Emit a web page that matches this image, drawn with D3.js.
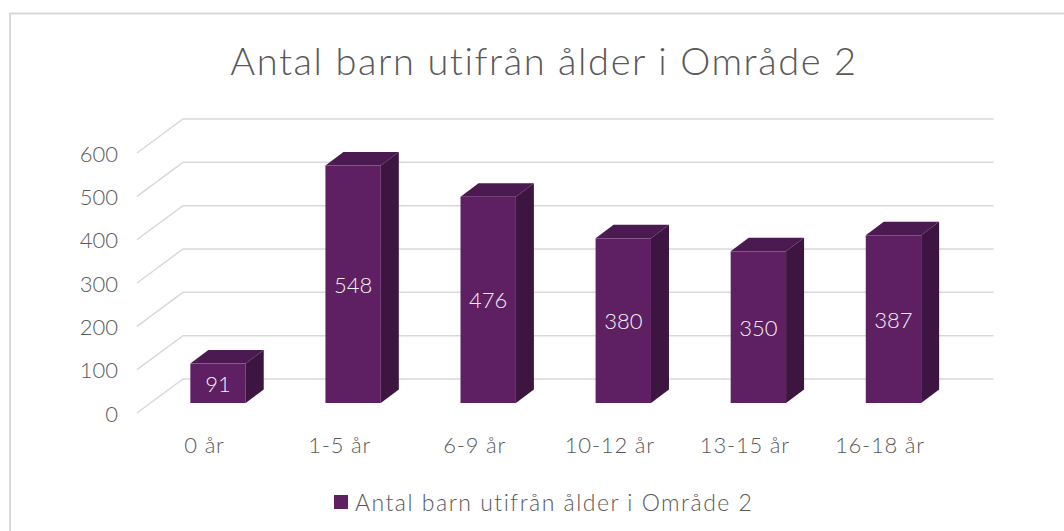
<!DOCTYPE html>
<html>
<head>
<meta charset="utf-8">
<script src="https://cdn.jsdelivr.net/npm/d3@7"></script>
<style>
  body { margin: 0; background: #fff; }
  text { font-family: Lato, "Open Sans", sans-serif; fill: #595959; font-weight: 300; }
</style>
</head>
<body>
<div id="chart"></div>
<script>
var svgWidth = 1064;
var svgHeight = 531;

var categories = ["0 år", "1-5 år", "6-9 år", "10-12 år", "13-15 år", "16-18 år"];
var values = [91, 548, 476, 380, 350, 387];
var yTicks = [0, 100, 200, 300, 400, 500, 600];
var titleText = "Antal barn utifrån ålder i Område 2";
var seriesName = "Antal barn utifrån ålder i Område 2";

// oblique "3D" offsets
var floorDx = 46, floorDy = -34;     // full floor depth, front edge -> back wall
var planeFrac = 10 / 34;             // where the bars' front faces sit
var barDx = 18, barDy = -13.5;       // depth of each bar

var svg = d3.select("#chart")
  .append("svg")
  .attr("width", svgWidth)
  .attr("height", svgHeight);

// chart border
svg.append("rect")
  .attr("x", 10)
  .attr("y", 13.5)
  .attr("width", 1100)
  .attr("height", 600)
  .attr("fill", "none")
  .attr("stroke", "#d9d9d9")
  .attr("stroke-width", 2);

// scales in the plane of the bars' front faces
var x = d3.scaleBand()
  .domain(categories)
  .range([150.5, 961])
  .paddingInner(0.59)
  .paddingOuter(0.295);

var y = d3.scaleLinear()
  .domain([0, 600])
  .range([403, 143]);

var planeDx = floorDx * planeFrac, planeDy = floorDy * planeFrac;
var backDx = floorDx - planeDx, backDy = floorDy - planeDy;

// gridlines: diagonal on the side floor + horizontal on the back wall
var frontX = x.range()[0] - planeDx;
var wallLeft = x.range()[0] + backDx;
var wallRight = x.range()[1] + backDx;

var grid = svg.append("g").attr("fill", "none")
  .attr("stroke", "#d9d9d9").attr("stroke-width", 1.5);

yTicks.forEach(function(t) {
  var yb = y(t) + backDy;
  grid.append("path")
    .attr("d", `M${frontX},${yb - floorDy} L${wallLeft},${yb} L${wallRight},${yb}`);
});

// y axis labels
svg.append("g").selectAll("text")
  .data(yTicks)
  .enter()
  .append("text")
  .attr("x", frontX - 19)
  .attr("y", d => y(d) - planeDy)
  .attr("text-anchor", "end")
  .attr("dominant-baseline", "central")
  .style("font-size", "22px")
  .text(d => d);

// bars
var bars = svg.append("g").selectAll("g")
  .data(values)
  .enter()
  .append("g");

var bw = x.bandwidth();

bars.append("path")   // top
  .attr("fill", "#4b1a50")
  .attr("d", (d, i) => {
    var x0 = x(categories[i]), yt = y(d);
    return `M${x0},${yt} L${x0 + barDx},${yt + barDy} L${x0 + bw + barDx},${yt + barDy} L${x0 + bw},${yt} Z`;
  });

bars.append("path")   // side
  .attr("fill", "#3c1541")
  .attr("d", (d, i) => {
    var x1 = x(categories[i]) + bw, yt = y(d), y0 = y(0);
    return `M${x1},${yt} L${x1 + barDx},${yt + barDy} L${x1 + barDx},${y0 + barDy} L${x1},${y0} Z`;
  });

bars.append("rect")   // front
  .attr("fill", "#5e1f63")
  .attr("x", (d, i) => x(categories[i]))
  .attr("y", d => y(d))
  .attr("width", bw)
  .attr("height", d => y(0) - y(d));

// data labels
bars.append("text")
  .attr("x", (d, i) => x(categories[i]) + bw / 2)
  .attr("y", d => (y(d) + y(0)) / 2)
  .attr("text-anchor", "middle")
  .attr("dominant-baseline", "central")
  .style("font-size", "22px")
  .style("fill", "#f2f2f2")
  .text(d => d);

// category labels at the front edge of the floor
svg.append("g").selectAll("text")
  .data(categories)
  .enter()
  .append("text")
  .attr("x", d => x(d) + bw / 2 - planeDx)
  .attr("y", 444)
  .attr("text-anchor", "middle")
  .attr("dominant-baseline", "central")
  .style("font-size", "22px")
  .style("letter-spacing", "0.8px")
  .text(d => d);

// title
svg.append("text")
  .attr("x", 544)
  .attr("y", 60)
  .attr("text-anchor", "middle")
  .attr("dominant-baseline", "central")
  .style("font-size", "38px")
  .style("letter-spacing", "1.6px")
  .text(titleText);

// legend
var legend = svg.append("g");
legend.append("rect")
  .attr("x", 334).attr("y", 495)
  .attr("width", 14).attr("height", 14)
  .attr("fill", "#5e1f63");
legend.append("text")
  .attr("x", 355)
  .attr("y", 502)
  .attr("dominant-baseline", "central")
  .style("font-size", "23px")
  .style("letter-spacing", "1.5px")
  .text(seriesName);
</script>
</body>
</html>
